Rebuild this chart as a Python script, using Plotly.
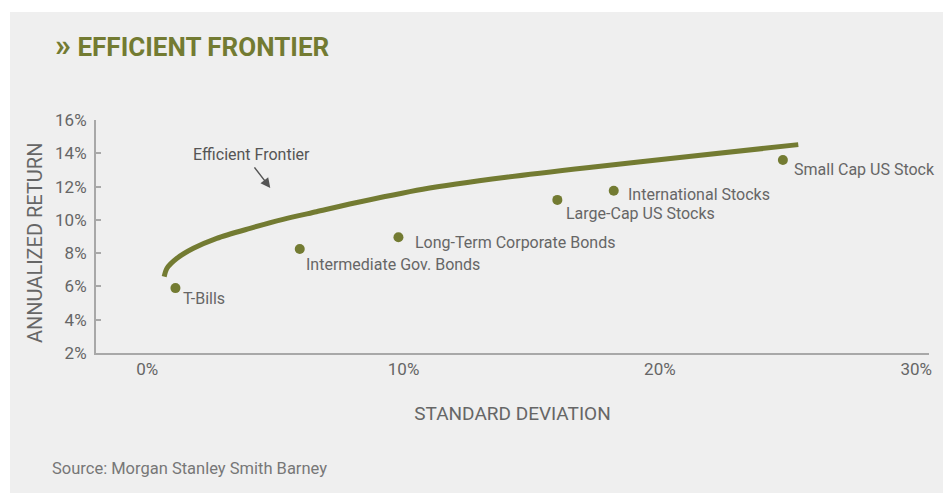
import plotly.graph_objects as go

# Asset classes (standard deviation %, annualized return %)
assets = ["T-Bills", "Intermediate Gov. Bonds", "Long-Term Corporate Bonds",
          "Large-Cap US Stocks", "International Stocks", "Small Cap US Stock"]
asset_sd = [1.1, 5.95, 9.8, 16.0, 18.2, 24.8]
asset_ret = [5.9, 8.25, 8.95, 11.2, 11.75, 13.6]

# Efficient frontier curve
frontier_sd = [0.66, 0.77, 1.16, 1.80, 2.71, 4.01, 5.30, 6.60, 7.90, 10.75, 14.0, 17.24, 21.13, 25.4]
frontier_ret = [6.59, 7.09, 7.69, 8.29, 8.89, 9.49, 10.03, 10.49, 10.95, 11.84, 12.56, 13.15, 13.80, 14.52]

x_ticks = [0, 10, 20, 30]
y_ticks = [2, 4, 6, 8, 10, 12, 14, 16]

# label offsets in pixels (x, y)
label_shift = [(6, -10), (4, -16), (15, -5), (7, -14), (12, -4), (9, -10)]

GREEN = "#737b32"
GRAY = "#666666"
FONT = "Roboto"

# plot area in pixels
L, R, T, B = 96, 929, 120, 353
W, H = R - L, B - T


def px(xp):
    return (xp - L) / W


def py(yp):
    return (B - yp) / H


fig = go.Figure()
fig.add_trace(go.Scatter(x=frontier_sd, y=frontier_ret, mode="lines",
                         line=dict(color=GREEN, width=5, shape="spline", smoothing=0.8),
                         hoverinfo="skip", showlegend=False))
fig.add_trace(go.Scatter(x=asset_sd, y=asset_ret, mode="markers",
                         marker=dict(color=GREEN, size=10),
                         text=assets, hoverinfo="text", showlegend=False))

for name, xv, yv, (dx, dy) in zip(assets, asset_sd, asset_ret, label_shift):
    fig.add_annotation(x=xv, y=yv, text=name, showarrow=False, xanchor="left",
                       yanchor="middle", xshift=dx, yshift=dy,
                       font=dict(family=FONT, size=16, color=GRAY))

# Efficient Frontier callout
fig.add_annotation(x=4.8, y=11.92, xref="x", yref="y",
                   ax=-17, ay=-22, showarrow=True, arrowhead=2, arrowsize=1.3,
                   arrowwidth=1.5, arrowcolor="#555555", text="", standoff=0)
fig.add_annotation(x=1.72, y=13.9, xref="x", yref="y", text="Efficient Frontier",
                   showarrow=False, xanchor="left", yanchor="middle",
                   font=dict(family=FONT, size=16, color="#555555"))

# Title
fig.add_annotation(x=px(53), y=py(45), xref="paper", yref="paper",
                   text="<b><span style='font-size:32px'>»</span> EFFICIENT FRONTIER</b>",
                   showarrow=False, xanchor="left", yanchor="middle",
                   font=dict(family=FONT, size=26, color=GREEN))

# Y-axis title
fig.add_annotation(x=px(35), y=py(243), xref="paper", yref="paper",
                   text="ANNUALIZED RETURN", textangle=-90, showarrow=False,
                   xanchor="center", yanchor="middle",
                   font=dict(family=FONT, size=20, color=GRAY))

# Source note
fig.add_annotation(x=px(50), y=py(468), xref="paper", yref="paper",
                   text="Source: Morgan Stanley Smith Barney", showarrow=False,
                   xanchor="left", yanchor="middle",
                   font=dict(family=FONT, size=16.5, color="#777777"))

fig.update_layout(
    width=948, height=493,
    paper_bgcolor="white", plot_bgcolor="rgba(0,0,0,0)",
    margin=dict(l=L, r=948 - R, t=T, b=493 - B),
    font=dict(family=FONT, color=GRAY),
    shapes=[dict(type="rect", xref="paper", yref="paper", layer="below",
                 x0=px(10), x1=px(943), y0=py(493), y1=py(12),
                 fillcolor="#efefef", line=dict(width=0))],
    xaxis=dict(range=[-2, 30.5], tickvals=x_ticks, ticktext=[f"{v}%" for v in x_ticks],
               showgrid=False, zeroline=False, showline=True, linecolor="#a8a8a8", linewidth=2,
               ticks="", tickfont=dict(family=FONT, size=17, color=GRAY),
               title=dict(text="STANDARD DEVIATION", standoff=28,
                          font=dict(family=FONT, size=19, color=GRAY))),
    yaxis=dict(range=[2, 16], tickvals=y_ticks, ticktext=[f"{v}%" for v in y_ticks],
               showgrid=False, zeroline=False, showline=True, linecolor="#a8a8a8", linewidth=2,
               ticks="inside", ticklen=5, tickcolor="#a8a8a8", tickwidth=1.5,
               ticklabelstandoff=4,
               tickfont=dict(family=FONT, size=17, color=GRAY)),
)

fig.write_html("out.html", config={"displayModeBar": False},
               post_script="document.body.style.margin='0px';")
